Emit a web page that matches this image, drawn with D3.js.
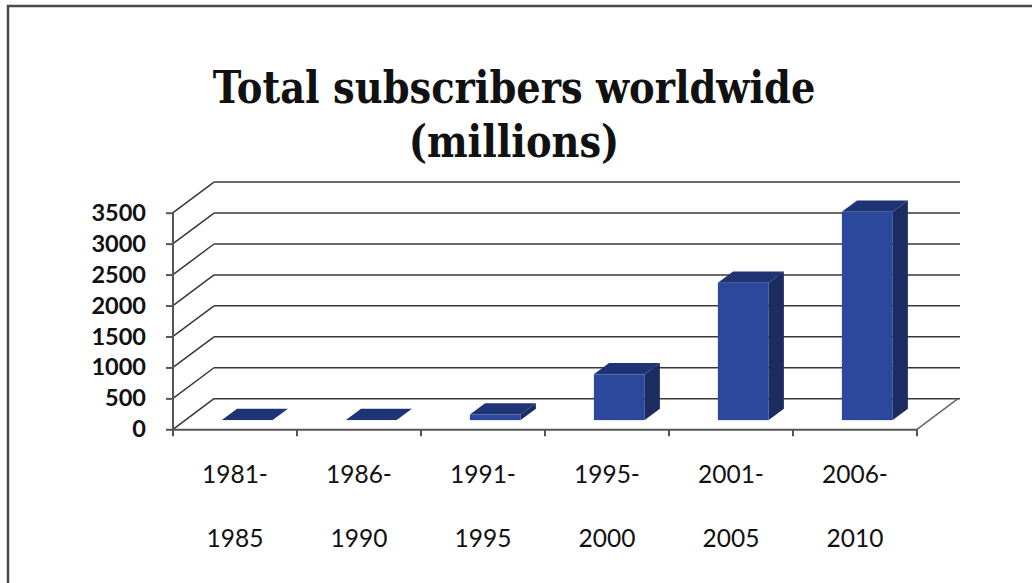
<!DOCTYPE html>
<html>
<head>
<meta charset="utf-8">
<script src="https://cdn.jsdelivr.net/npm/d3@7/dist/d3.min.js"></script>
<style>
  html, body { margin: 0; padding: 0; background: #fff; }
  svg { display: block; }
</style>
</head>
<body>
<svg id="chart" width="1032" height="583"></svg>
<script>
// Mobile subscribers per five-year period, in millions
const periods = ["1981-1985", "1986-1990", "1991-1995", "1995-2000", "2001-2005", "2006-2010"];
const subscribers = [1, 1, 90, 740, 2220, 3365];
const yTicks = [0, 500, 1000, 1500, 2000, 2500, 3000, 3500];
const titleLines = ["Total subscribers worldwide", "(millions)"];

const svg = d3.select("#chart");

// Outer frame of the chart area
svg.append("rect")
  .attr("x", 8).attr("y", 6)
  .attr("width", 1060).attr("height", 620)
  .attr("fill", "#fff")
  .attr("stroke", "#4a4a4a")
  .attr("stroke-width", 2.5);

// Front plane of the 3-D box, plus the offset of its back wall
const left = 173, right = 917, floorY = 429.3, topY = 212.7;
const DX = 41, DY = -30.6;

const x = d3.scaleBand().domain(periods).range([left, right]).padding(0);
const y = d3.scaleLinear().domain([0, 3500]).range([floorY, topY]);

const gridColor = "#383838";

// Back-wall gridlines and the diagonals that join them to the front axis
const grid = svg.append("g");
yTicks.forEach(t => {
  grid.append("line")
    .attr("x1", left + DX).attr("x2", right + DX + 2)
    .attr("y1", y(t) + DY).attr("y2", y(t) + DY)
    .attr("stroke", gridColor).attr("stroke-width", 1.5);
  grid.append("line")
    .attr("x1", left).attr("x2", left + DX)
    .attr("y1", y(t)).attr("y2", y(t) + DY)
    .attr("stroke", gridColor).attr("stroke-width", 1.5);
});

// Right edge of the floor
grid.append("line")
  .attr("x1", right).attr("x2", right + DX)
  .attr("y1", floorY).attr("y2", floorY + DY)
  .attr("stroke", "#666").attr("stroke-width", 1.5);

// Bars: front face, top face and right side, placed mid-depth
const f0 = 0.30, f1 = 0.67;
const barW = x.bandwidth() * 0.41;
const bars = svg.append("g");
periods.forEach((p, i) => {
  const v = subscribers[i];
  const x0 = x(p) + (x.bandwidth() - barW) / 2 + f0 * DX;
  const x1 = x0 + barW;
  const yb = y(0) + f0 * DY;
  const yt = y(v) + f0 * DY;
  const ddx = (f1 - f0) * DX, ddy = (f1 - f0) * DY;
  bars.append("rect")
    .attr("x", x0).attr("y", yt)
    .attr("width", barW).attr("height", yb - yt)
    .attr("fill", "#2b489c");
  bars.append("path")
    .attr("d", `M${x1},${yt}L${x1 + ddx},${yt + ddy}L${x1 + ddx},${yb + ddy}L${x1},${yb}Z`)
    .attr("fill", "#1c2c60");
  bars.append("path")
    .attr("d", `M${x0},${yt}L${x1},${yt}L${x1 + ddx},${yt + ddy}L${x0 + ddx},${yt + ddy}Z`)
    .attr("fill", "#1e3475");
});

// Front axes
const axisColor = "#555";
const yAxis = d3.axisLeft(y).tickValues(yTicks).tickSize(7).tickPadding(20).tickFormat(d3.format("d"));
const yG = svg.append("g").attr("transform", `translate(${left},0)`).call(yAxis);
yG.select(".domain").attr("stroke", axisColor).attr("stroke-width", 2).attr("d", `M0,${floorY}V${topY}`);
yG.selectAll(".tick line").attr("stroke", axisColor).attr("stroke-width", 2);
yG.selectAll(".tick text")
  .attr("fill", "#111")
  .style("font-family", "Lato, 'Open Sans', sans-serif")
  .style("font-weight", "bold")
  .style("font-size", "23.5px");

const xAxis = d3.axisBottom(x).tickValues([]).tickSizeOuter(0);
const xG = svg.append("g").attr("transform", `translate(0,${floorY})`).call(xAxis);
xG.select(".domain").attr("stroke", axisColor).attr("stroke-width", 2);
// Boundary ticks between categories
const bounds = periods.map(p => x(p)).concat([right]);
xG.selectAll("line.bound").data(bounds).join("line")
  .attr("class", "bound")
  .attr("x1", d => d).attr("x2", d => d)
  .attr("y1", 0).attr("y2", 7)
  .attr("stroke", axisColor).attr("stroke-width", 2);

// Two-line category labels ("1981-" / "1985")
const lab = svg.append("g")
  .style("font-family", "Lato, 'Open Sans', sans-serif")
  .style("font-size", "24.5px")
  .attr("fill", "#111")
  .attr("text-anchor", "middle");
periods.forEach(p => {
  const [a, b] = p.split("-");
  const cx = x(p) + x.bandwidth() / 2;
  lab.append("text").attr("x", cx).attr("y", 483).text(a + "-");
  lab.append("text").attr("x", cx).attr("y", 547).text(b);
});

// Title, narrowed horizontally to its line width
const titleSize = 45;
const title = svg.append("g")
  .attr("text-anchor", "middle")
  .attr("fill", "#111")
  .style("font-family", "'DejaVu Serif', serif")
  .style("font-weight", "bold")
  .style("font-size", titleSize + "px");
const g1 = title.append("g");
const t1 = g1.append("text").attr("x", 0).attr("y", 0).text(titleLines[0]);
const sx = 603 / t1.node().getComputedTextLength();
g1.attr("transform", `translate(514,103) scale(${sx},1)`);
title.append("g")
  .attr("transform", `translate(514,157) scale(${sx},1)`)
  .append("text").attr("x", 0).attr("y", 0).text(titleLines[1]);
</script>
</body>
</html>
